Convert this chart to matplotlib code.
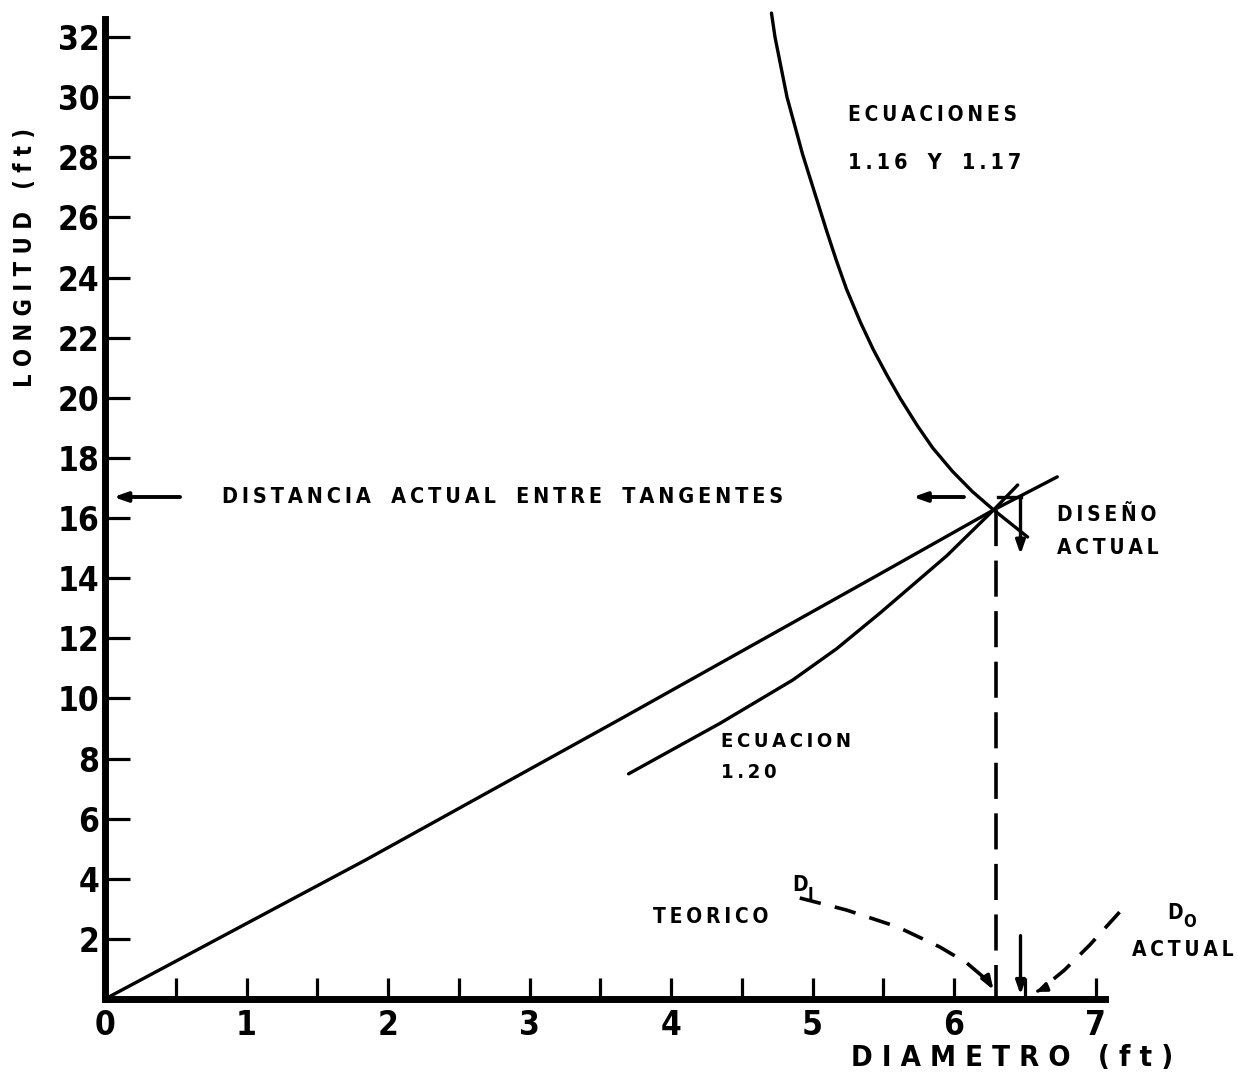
import matplotlib
matplotlib.use("Agg")
import matplotlib.pyplot as plt
import numpy as np

# recta de diseno (longitud vs diametro)
recta_d = [0.0, 1.84, 3.63, 5.48, 6.28, 6.73]
recta_l = [0.0, 4.62, 9.28, 14.15, 16.27, 17.37]

# ecuacion 1.20
ec120_d = [3.70, 4.35, 4.86, 5.17, 5.48, 5.95, 6.28, 6.45]
ec120_l = [7.49, 9.18, 10.61, 11.65, 12.85, 14.75, 16.27, 17.10]

# ecuaciones 1.16 y 1.17
ec116_d = [4.71, 4.735, 4.82, 4.93, 5.03, 5.10, 5.17, 5.24, 5.34, 5.43, 5.53, 5.62,
           5.74, 5.85, 5.99, 6.13, 6.28, 6.52]
ec116_l = [32.8, 32.0, 30.0, 28.1, 26.6, 25.55, 24.55, 23.62, 22.5, 21.6, 20.72, 19.98,
           19.08, 18.33, 17.55, 16.88, 16.27, 15.37]

# curvas de flecha punteadas
di_d = [4.91, 5.24, 5.60, 5.90, 6.09, 6.24, 6.29]
di_l = [3.36, 2.96, 2.40, 1.73, 1.20, 0.60, 0.22]
do_d = [7.17, 6.96, 6.78, 6.61, 6.56]
do_l = [2.89, 1.80, 0.96, 0.30, 0.20]

d_teorico = 6.30
d_actual = 6.47
l_actual = 16.70
l_interseccion = 16.27

x_major = np.arange(0, 8, 1)
x_minor = np.arange(0.5, 7.5, 1)
y_major = np.arange(2, 34, 2)

BOLD = dict(family="DejaVu Sans", weight="bold", fontstretch="condensed")
TXT = dict(family="DejaVu Sans", weight="bold", fontstretch="condensed", color="black")
THIN = "\u2009"


def spaced(s, gap=THIN):
    # separa las letras como en el rotulado original
    return "   ".join(gap.join(w) for w in s.split(" "))


def main():
    fig = plt.figure(figsize=(12.38, 10.8), dpi=100)
    ax = fig.add_axes([105 / 1238, 81 / 1080, 7.9 * 141.5 / 1238, 33.2 * 30.06 / 1080])
    ax.set_xlim(0, 7.9)
    ax.set_ylim(0, 33.2)

    for s in ["top", "right"]:
        ax.spines[s].set_visible(False)
    ax.spines["left"].set_bounds(0, 32.6)
    ax.spines["bottom"].set_bounds(0, 7.07)
    ax.spines["left"].set_linewidth(5)
    ax.spines["bottom"].set_linewidth(5)
    ax.spines["left"].set_capstyle("projecting")
    ax.spines["bottom"].set_capstyle("projecting")

    ax.set_xticks(x_major)
    ax.set_xticks(x_minor, minor=True)
    ax.set_xticklabels([str(v) for v in x_major], fontsize=24, **BOLD)
    ax.set_yticks(y_major)
    ax.set_yticklabels([str(v) for v in y_major], fontsize=24, **BOLD)
    ax.tick_params(axis="x", which="both", direction="in", length=15, width=2.3, pad=7)
    ax.tick_params(axis="y", which="both", direction="in", length=18, width=2.3, pad=4)

    lw = 2.4
    style = dict(color="black", lw=lw, solid_capstyle="round", solid_joinstyle="round")
    ax.plot(recta_d, recta_l, **style)
    ax.plot(ec120_d, ec120_l, **style)
    ax.plot(ec116_d, ec116_l, clip_on=False, **style)

    # linea vertical punteada en D teorico
    ax.plot([d_teorico, d_teorico], [l_interseccion, 0], color="black", lw=2.6,
            dashes=(10, 4))

    head = "-|>,head_length=0.8,head_width=0.28"
    # flecha solida en D actual
    ax.annotate("", xy=(d_actual, 0.05), xytext=(d_actual, 2.2),
                arrowprops=dict(arrowstyle=head, color="black", lw=2.4))

    # curvas punteadas con flecha
    ax.plot(di_d[:-1], di_l[:-1], color="black", lw=2.6, dashes=(6, 4), clip_on=False)
    ax.annotate("", xy=(di_d[-1], di_l[-1]), xytext=(di_d[-2], di_l[-2]),
                arrowprops=dict(arrowstyle=head, color="black", lw=2.4))
    ax.plot(do_d[:-1], do_l[:-1], color="black", lw=2.6, dashes=(6, 4), clip_on=False)
    ax.annotate("", xy=(do_d[-1], do_l[-1]), xytext=(do_d[-2], do_l[-2]),
                arrowprops=dict(arrowstyle="-|>,head_length=0.6,head_width=0.25",
                                color="black", lw=2.4))

    # flechas de distancia actual entre tangentes
    ax.annotate("", xy=(0.04, l_actual), xytext=(0.55, l_actual),
                arrowprops=dict(arrowstyle=head, color="black", lw=2.8))
    ax.annotate("", xy=(5.69, l_actual), xytext=(6.09, l_actual),
                arrowprops=dict(arrowstyle=head, color="black", lw=2.8))

    # pequeno corchete en el diseno actual
    ax.plot([6.31, d_actual], [l_actual, l_actual], color="black", lw=2.4)
    ax.annotate("", xy=(d_actual, 14.7), xytext=(d_actual, l_actual + 0.05),
                arrowprops=dict(arrowstyle=head, color="black", lw=2.4))

    # textos
    ax.text(5.25, 29.4, spaced("ECUACIONES"), fontsize=15, va="center", ha="left", **TXT)
    ax.text(5.25, 27.8, spaced("1.16 Y 1.17"), fontsize=15.5, va="center", ha="left", **TXT)
    ax.text(0.83, l_actual, spaced("DISTANCIA ACTUAL ENTRE TANGENTES"), fontsize=15.5,
            va="center", ha="left", **TXT)
    ax.text(6.73, 16.1, spaced("DISEÑO"), fontsize=15, va="center", ha="left", **TXT)
    ax.text(6.73, 15.0, spaced("ACTUAL"), fontsize=15, va="center", ha="left", **TXT)
    ax.text(4.35, 8.55, spaced("ECUACION"), fontsize=14.5, va="center", ha="left", **TXT)
    ax.text(4.35, 7.52, spaced("1.20"), fontsize=14.5, va="center", ha="left", **TXT)
    ax.text(4.91, 3.79, "D", fontsize=15, va="center", ha="center", **TXT)
    ax.text(4.985, 3.45, "I", fontsize=12, va="center", ha="center", **TXT)
    ax.text(4.28, 2.73, spaced("TEORICO"), fontsize=15, va="center", ha="center", **TXT)
    ax.text(7.56, 2.86, "D", fontsize=15, va="center", ha="center", clip_on=False, **TXT)
    ax.text(7.665, 2.56, "O", fontsize=12, va="center", ha="center", clip_on=False, **TXT)
    ax.text(7.26, 1.63, spaced("ACTUAL"), fontsize=15, va="center", ha="left",
            clip_on=False, **TXT)

    fig.text(1012 / 1238, 1 - 1058 / 1080, "D I A M E T R O   ( f t )", fontsize=21,
             ha="center", va="center", **TXT)
    fig.text(25 / 1238, 1 - 257 / 1080, "L O N G I T U D   ( f t )", fontsize=17,
             ha="center", va="center", rotation=90, **TXT)

    fig.savefig("out.png", dpi=100, facecolor="white")


if __name__ == "__main__":
    main()
